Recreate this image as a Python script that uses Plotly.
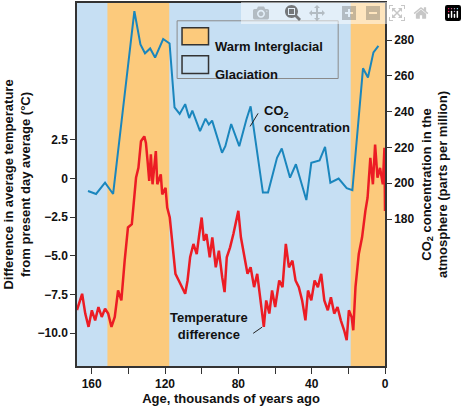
import plotly.graph_objects as go

# CO2 record (thousands of years ago, ppm)
co2_age = [162.0, 157.6, 152.7, 148.3, 136.7, 133.4, 130.9, 128.1, 125.4, 121.0, 117.5,
           114.8, 112.0, 109.0, 106.8, 105.1, 100.9, 97.9, 96.1, 94.3, 88.9, 87.1, 83.9,
           79.5, 75.6, 73.3, 70.6, 66.6, 63.8, 58.9, 56.3, 51.8, 48.6, 42.9, 40.2, 35.7,
           32.7, 29.8, 25.3, 20.9, 17.8, 12.0, 9.3, 6.3, 3.6]
co2_ppm = [195.7, 194.0, 200.3, 194.0, 296.1, 277.6, 272.6, 275.3, 270.2, 280.6, 278.1,
           242.4, 238.7, 244.2, 236.4, 240.6, 229.1, 236.1, 232.8, 235.0, 217.0, 220.7, 233.1,
           220.7, 235.6, 243.0, 223.5, 194.8, 194.8, 214.2, 219.4, 203.1, 210.6, 190.6, 211.4, 212.8,
           220.3, 200.3, 202.6, 197.2, 196.1, 264.2, 259.1, 273.1, 276.8]

# temperature difference (°C)
temp_age = [168.0, 165.2, 163.5, 161.7, 159.9, 158.1, 156.3, 154.5, 152.7, 151.0, 149.2, 147.4,
            145.6, 143.8, 142.0, 140.2, 138.1, 135.8, 134.5, 133.1, 131.3, 130.4, 129.5,
            128.6, 127.7, 126.8, 125.0, 124.2, 122.3, 121.5, 119.7, 118.8, 117.4, 116.1,
            114.3, 112.5, 110.8, 109.0, 107.7, 106.3, 104.5, 102.7, 101.3, 100.0, 98.8,
            97.4, 95.6, 94.2, 92.3, 90.6, 88.8, 87.5, 86.3, 84.5, 82.7, 81.3, 80.0, 78.6,
            76.8, 75.0, 73.3, 71.4, 69.7, 67.9, 66.1, 64.8, 63.1, 61.6, 59.9, 57.7, 55.9,
            54.1, 52.4, 50.5, 48.8, 47.0, 45.2, 43.4, 42.0, 40.2, 38.4, 36.6, 34.8, 33.1,
            31.2, 29.5, 27.7, 25.9, 24.1, 22.3, 20.9, 19.7, 18.2, 17.3, 16.1, 14.3, 12.5,
            10.7, 9.5, 8.0, 6.6, 5.4, 4.1, 2.7, 1.2, 0.3, 0.0]
temp_diff = [-8.5, -7.45, -8.73, -9.59, -8.52, -9.17, -8.31, -8.95, -8.41, -8.73, -9.59, -8.95,
             -7.24, -7.88, -5.31, -3.16, -2.95, 0.05, 0.69, 2.41, 2.73, 2.3, 1.13,
             -0.16, 1.56, -0.37, 1.77, -0.37, 0.27, -1.02, -0.6, -1.88, -2.52, -4.23,
             -6.16, -6.59, -7.02, -7.45, -6.59, -5.09, -4.23, -4.88, -3.59, -2.52, -4.02,
             -3.59, -5.09, -3.8, -5.74, -4.66, -6.38, -7.34, -5.09, -4.45, -3.59, -2.73, -2.09, -3.8,
             -4.88, -6.16, -5.74, -7.02, -6.16, -7.88, -9.59, -7.88, -8.73, -7.24, -8.31, -6.59, -7.02,
             -4.23, -5.74, -5.31, -6.59, -7.02, -7.88, -9.17, -7.24, -7.88, -6.59, -7.02, -6.16, -7.88,
             -8.52, -7.67, -8.73, -8.31, -9.17, -9.81, -10.45, -8.52, -8.95, -9.81, -7.02, -4.88, -3.8,
             -2.09, -1.24, 1.34, -0.37, 2.2, 0.05, 0.69, -0.37, 1.99, -2.1]

warm_periods = [(151.4, 117.7), (18.7, 0.0)]
temp_ticks = [2.5, 0, -2.5, -5.0, -7.5, -10.0]
temp_labels = ['2.5', '0', '−2.5', '−5.0', '−7.5', '−10.0']
co2_ticks = [180, 200, 220, 240, 260, 280]

BLUE_BG = '#c6dff3'
ORANGE = '#fcca7c'
font = dict(family='Liberation Sans, Arial', size=12, color='#111')
bold = dict(family='Liberation Sans, Arial', size=13, color='#111')

fig = go.Figure()

fig.add_trace(go.Scatter(x=temp_age, y=temp_diff, mode='lines',
                         line=dict(color='#ec1c24', width=2.5), showlegend=False))
fig.add_trace(go.Scatter(x=co2_age, y=co2_ppm, mode='lines', yaxis='y2',
                         line=dict(color='#1a86bd', width=2), showlegend=False))

shapes = []
for a0, a1 in warm_periods:
    shapes.append(dict(type='rect', xref='x', yref='paper', x0=a0, x1=a1, y0=0, y1=1,
                       fillcolor=ORANGE, line_width=0, layer='below'))
# legend box
shapes.append(dict(type='rect', xref='paper', yref='paper', x0=0.325, x1=0.848, y0=0.792, y1=0.951,
                   fillcolor=BLUE_BG, line=dict(color='#8a8a8a', width=1)))
shapes.append(dict(type='rect', xref='paper', yref='paper', x0=0.341, x1=0.427, y0=0.885, y1=0.932,
                   fillcolor=ORANGE, line=dict(color='#333', width=1.5)))
shapes.append(dict(type='rect', xref='paper', yref='paper', x0=0.341, x1=0.427, y0=0.806, y1=0.855,
                   fillcolor=BLUE_BG, line=dict(color='#333', width=1.5)))
# leader lines
shapes.append(dict(type='line', xref='paper', yref='paper', x0=0.588, y0=0.696, x1=0.562, y1=0.660,
                   line=dict(color='#222', width=1)))
shapes.append(dict(type='line', xref='paper', yref='paper', x0=0.572, y0=0.090, x1=0.601, y1=0.107,
                   line=dict(color='#222', width=1)))

annotations = [
    dict(xref='paper', yref='paper', x=0.443, y=0.907, text='<b>Warm Interglacial</b>',
         showarrow=False, xanchor='left', font=bold),
    dict(xref='paper', yref='paper', x=0.443, y=0.830, text='<b>Glaciation</b>',
         showarrow=False, xanchor='left', font=bold),
    dict(xref='paper', yref='paper', x=0.60, y=0.73, text='<b>CO<sub>2</sub><br>concentration</b>',
         showarrow=False, xanchor='left', align='left', font=bold),
    dict(xref='paper', yref='paper', x=0.43, y=0.060, text='<b>Temperature<br>difference</b>',
         showarrow=False, xanchor='center', align='center', font=bold),
]

fig.update_layout(
    width=467, height=410,
    margin=dict(l=77, r=82, t=1, b=44),
    plot_bgcolor=BLUE_BG, paper_bgcolor='white',
    font=font, shapes=shapes, annotations=annotations,
    xaxis=dict(range=[168, 0], tickvals=[160, 140, 120, 100, 80, 60, 40, 20, 0],
               ticktext=['<b>160</b>', '', '<b>120</b>', '', '<b>80</b>', '', '<b>40</b>', '', '<b>0</b>'],
               ticks='outside', ticklen=6, tickcolor='#333', showgrid=False, zeroline=False,
               showline=True, linecolor='#333', linewidth=1.5, mirror=True,
               title=dict(text='<b>Age, thousands of years ago</b>', font=bold, standoff=4)),
    yaxis=dict(range=[-12.12, 11.35], tickvals=temp_ticks,
               ticktext=['<b>%s</b>' % t for t in temp_labels],
               ticks='outside', ticklen=5, tickcolor='#333', showgrid=False, zeroline=False,
               showline=True, linecolor='#333', linewidth=1.5,
               title=dict(text='<b>Difference in average temperature<br>from present day average (°C)</b>',
                          font=bold, standoff=4)),
    yaxis2=dict(range=[97.9, 300.7], overlaying='y', side='right', tickvals=co2_ticks,
                ticktext=['<b>%d</b>' % t for t in co2_ticks],
                ticks='outside', ticklen=5, tickcolor='#333', showgrid=False, zeroline=False,
                showline=True, linecolor='#333', linewidth=1.5,
                title=dict(text='<b>CO<sub>2</sub> concentration in the<br>atmosphere (parts per million)</b>',
                           font=bold, standoff=8)),
)

# drop the browser's default page margin so the figure sits at the top-left corner
fig.write_html("out.html", post_script="document.body.style.margin='0';")
